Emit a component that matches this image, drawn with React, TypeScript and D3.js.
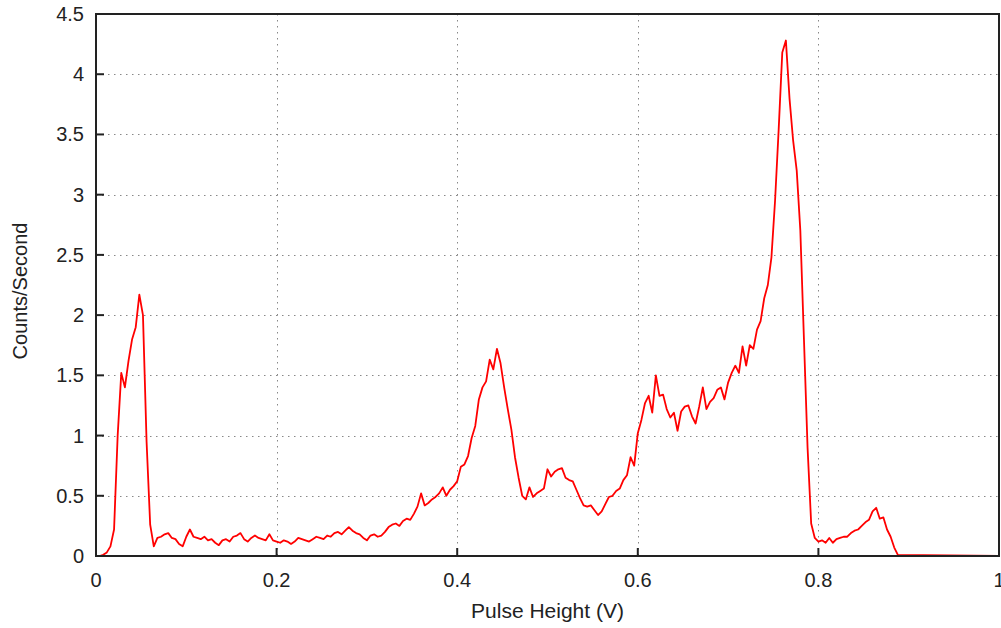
import * as d3 from "d3";

// spectrum sampled every 0.004 V starting at 0 V
const X_STEP = 0.004;
const counts = [
  0, 0, 0.01, 0.03, 0.08, 0.22, 1.0, 1.52, 1.4, 1.62,
  1.8, 1.9, 2.17, 2.0, 0.95, 0.26, 0.08, 0.15, 0.16, 0.18,
  0.19, 0.15, 0.14, 0.1, 0.08, 0.16, 0.22, 0.16, 0.15, 0.14,
  0.16, 0.13, 0.14, 0.11, 0.09, 0.13, 0.14, 0.12, 0.16, 0.17,
  0.19, 0.14, 0.12, 0.15, 0.17, 0.15, 0.14, 0.13, 0.18, 0.13,
  0.12, 0.11, 0.13, 0.12, 0.1, 0.12, 0.15, 0.14, 0.13, 0.12,
  0.14, 0.16, 0.15, 0.14, 0.17, 0.16, 0.19, 0.2, 0.18, 0.21,
  0.24, 0.21, 0.19, 0.18, 0.15, 0.13, 0.17, 0.18, 0.16, 0.17,
  0.2, 0.24, 0.26, 0.27, 0.25, 0.29, 0.31, 0.3, 0.35, 0.41,
  0.52, 0.42, 0.44, 0.47, 0.49, 0.52, 0.57, 0.5, 0.55, 0.58,
  0.62, 0.74, 0.76, 0.83, 0.98, 1.08, 1.3, 1.4, 1.45, 1.63,
  1.55, 1.72, 1.6, 1.4, 1.22, 1.05, 0.82, 0.65, 0.5, 0.47,
  0.57, 0.49, 0.52, 0.54, 0.56, 0.72, 0.66, 0.7, 0.72, 0.73,
  0.65, 0.63, 0.62, 0.55, 0.48, 0.42, 0.41, 0.42, 0.38, 0.34,
  0.37, 0.43, 0.49, 0.5, 0.54, 0.56, 0.63, 0.67, 0.82, 0.75,
  1.02, 1.13, 1.27, 1.33, 1.19, 1.5, 1.33, 1.34, 1.22, 1.15,
  1.19, 1.04, 1.2, 1.24, 1.25, 1.16, 1.1, 1.24, 1.4, 1.22,
  1.28, 1.31, 1.38, 1.4, 1.3, 1.44, 1.52, 1.58, 1.52, 1.74,
  1.58, 1.75, 1.72, 1.88, 1.95, 2.14, 2.25, 2.48, 2.95, 3.54,
  4.18, 4.28, 3.8, 3.45, 3.2, 2.7, 1.8, 0.9, 0.27, 0.15,
  0.12, 0.13, 0.11, 0.15, 0.11, 0.14, 0.15, 0.16, 0.16, 0.19,
  0.21, 0.22, 0.25, 0.28, 0.3, 0.37, 0.4, 0.31, 0.32, 0.22,
  0.16, 0.07, 0.01,
];
// the detector reads nothing above the last sample up to 1 V
const tailEnd: [number, number] = [1.0, 0];

const xTicks = [0, 0.2, 0.4, 0.6, 0.8, 1];
const yTicks = [0, 0.5, 1, 1.5, 2, 2.5, 3, 3.5, 4, 4.5];

const WIDTH = 1001;
const HEIGHT = 628;
const margin = { top: 14, right: 2, bottom: 72, left: 96 };

export default function App() {
  const x = d3.scaleLinear().domain([0, 1]).range([margin.left, WIDTH - margin.right]);
  const y = d3.scaleLinear().domain([0, 4.5]).range([HEIGHT - margin.bottom, margin.top]);

  const points: [number, number][] = counts.map((c, i) => [i * X_STEP, c]);
  points.push(tailEnd);

  const line = d3.line<[number, number]>()
    .x(d => x(d[0]))
    .y(d => y(d[1]));

  const x0 = x(0), x1 = x(1), y0 = y(0), y1 = y(4.5);
  const font = "Liberation Sans, Arial, sans-serif";

  return (
    <svg width={WIDTH} height={HEIGHT}
      style={{ position: "absolute", left: 0, top: 0, background: "#fff" }}>
      {/* grid */}
      <g stroke="#888" strokeWidth={1} strokeDasharray="1.5,4.5">
        {yTicks.slice(1, -1).map(t => (
          <line key={"gy" + t} x1={x0} x2={x1} y1={Math.round(y(t)) + 0.5} y2={Math.round(y(t)) + 0.5} />
        ))}
        {xTicks.slice(1, -1).map(t => (
          <line key={"gx" + t} x1={Math.round(x(t)) + 0.5} x2={Math.round(x(t)) + 0.5} y1={y1} y2={y0} />
        ))}
      </g>

      {/* data */}
      <path d={line(points) ?? ""} fill="none" stroke="#ff0000" strokeWidth={1.8} strokeLinejoin="round" />

      {/* frame and ticks */}
      <rect x={x0} y={y1} width={x1 - x0} height={y0 - y1} fill="none" stroke="#222" strokeWidth={2} />
      <g stroke="#222" strokeWidth={2}>
        {yTicks.map(t => (
          <line key={"ty" + t} x1={x0} x2={x0 + 8} y1={y(t)} y2={y(t)} />
        ))}
        {xTicks.map(t => (
          <line key={"tx" + t} x1={x(t)} x2={x(t)} y1={y0} y2={y0 - 8} />
        ))}
      </g>

      {/* tick labels */}
      <g fontFamily={font} fontSize={20} fill="#222">
        {yTicks.map(t => (
          <text key={"ly" + t} x={x0 - 12} y={y(t)} dy="0.35em" textAnchor="end">{d3.format("~g")(t)}</text>
        ))}
        {xTicks.map(t => (
          <text key={"lx" + t} x={x(t)} y={y0 + 31} textAnchor="middle">{d3.format("~g")(t)}</text>
        ))}
      </g>

      {/* axis titles */}
      <text x={(x0 + x1) / 2} y={618} textAnchor="middle" fontFamily={font} fontSize={21} fill="#222">
        Pulse Height (V)
      </text>
      <text transform={`translate(27,291) rotate(-90)`} textAnchor="middle"
        fontFamily={font} fontSize={20} fill="#222">
        Counts/Second
      </text>
    </svg>
  );
}
